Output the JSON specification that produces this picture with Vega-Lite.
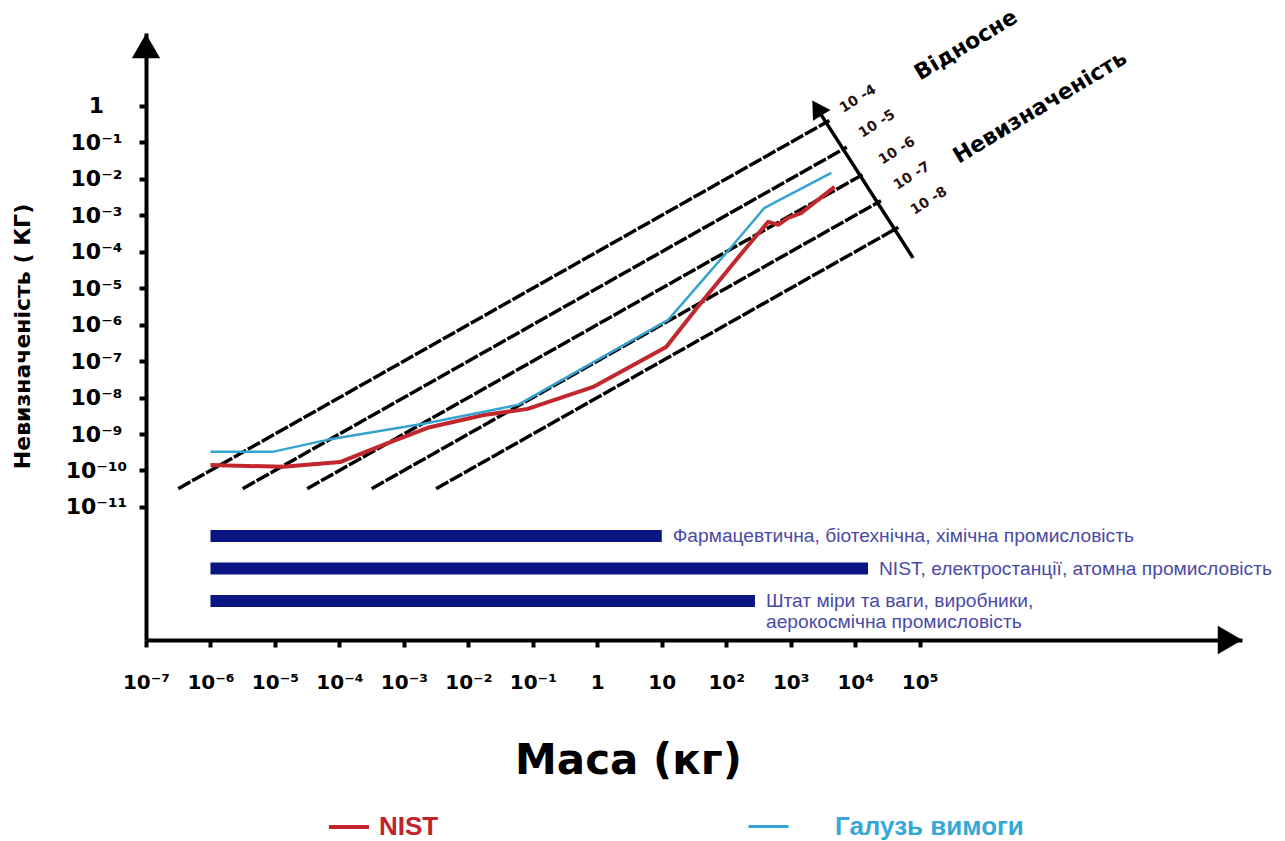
{
  "$schema": "https://vega.github.io/schema/vega-lite/v6.json",
  "width": 1096,
  "height": 607,
  "autosize": {"type": "none"},
  "padding": {"left": 146, "top": 33, "right": 43, "bottom": 201},
  "background": "white",
  "config": {"view": {"stroke": null}, "font": "Liberation Sans", "axis": {"grid": false}},
  "datasets": {
    "diag": [
      {"rel": "1e-4", "mass": 3.162e-7, "unc": 3.162e-11},
      {"rel": "1e-4", "mass": 3981, "unc": 0.3981},
      {"rel": "1e-5", "mass": 3.162e-6, "unc": 3.162e-11},
      {"rel": "1e-5", "mass": 7413, "unc": 0.07413},
      {"rel": "1e-6", "mass": 3.162e-5, "unc": 3.162e-11},
      {"rel": "1e-6", "mass": 13804, "unc": 0.013804},
      {"rel": "1e-7", "mass": 3.162e-4, "unc": 3.162e-11},
      {"rel": "1e-7", "mass": 25119, "unc": 0.0025119},
      {"rel": "1e-8", "mass": 3.162e-3, "unc": 3.162e-11},
      {"rel": "1e-8", "mass": 46774, "unc": 0.00046774}
    ],
    "relaxis": [
      {"mass": 78900, "unc": 6.77e-5},
      {"mass": 2649, "unc": 0.777}
    ],
    "series": [
      {"series": "NIST", "i": 1, "mass": 1e-6, "unc": 1.41e-10},
      {"series": "NIST", "i": 2, "mass": 1.35e-5, "unc": 1.26e-10},
      {"series": "NIST", "i": 3, "mass": 1.02e-4, "unc": 1.7e-10},
      {"series": "NIST", "i": 4, "mass": 4.79e-4, "unc": 5.01e-10},
      {"series": "NIST", "i": 5, "mass": 2.34e-3, "unc": 1.48e-9},
      {"series": "NIST", "i": 6, "mass": 0.0174, "unc": 3.31e-9},
      {"series": "NIST", "i": 7, "mass": 0.0832, "unc": 4.9e-9},
      {"series": "NIST", "i": 8, "mass": 0.891, "unc": 2.0e-8},
      {"series": "NIST", "i": 9, "mass": 11.7, "unc": 2.45e-7},
      {"series": "NIST", "i": 10, "mass": 36.3, "unc": 3.09e-6},
      {"series": "NIST", "i": 11, "mass": 191, "unc": 1.12e-4},
      {"series": "NIST", "i": 12, "mass": 447, "unc": 6.61e-4},
      {"series": "NIST", "i": 13, "mass": 646, "unc": 5.5e-4},
      {"series": "NIST", "i": 14, "mass": 912, "unc": 8.51e-4},
      {"series": "NIST", "i": 15, "mass": 1445, "unc": 1.15e-3},
      {"series": "NIST", "i": 16, "mass": 4786, "unc": 6.03e-3},
      {"series": "Галузь вимоги", "i": 1, "mass": 1e-6, "unc": 3.24e-10},
      {"series": "Галузь вимоги", "i": 2, "mass": 9.12e-6, "unc": 3.24e-10},
      {"series": "Галузь вимоги", "i": 3, "mass": 6.46e-5, "unc": 6.92e-10},
      {"series": "Галузь вимоги", "i": 4, "mass": 2.34e-3, "unc": 2.0e-9},
      {"series": "Галузь вимоги", "i": 5, "mass": 0.0589, "unc": 6.31e-9},
      {"series": "Галузь вимоги", "i": 6, "mass": 12.6, "unc": 1.35e-6},
      {"series": "Галузь вимоги", "i": 7, "mass": 120, "unc": 1.35e-4},
      {"series": "Галузь вимоги", "i": 8, "mass": 389, "unc": 1.58e-3},
      {"series": "Галузь вимоги", "i": 9, "mass": 550, "unc": 2.19e-3},
      {"series": "Галузь вимоги", "i": 10, "mass": 4266, "unc": 0.0145}
    ],
    "rellabels": [
      {"text": "10 -4", "mass": 11066, "unc": 1.556},
      {"text": "10 -5", "mass": 21830, "unc": 0.3206},
      {"text": "10 -6", "mass": 44570, "unc": 0.05834},
      {"text": "10 -7", "mass": 76210, "unc": 0.01202},
      {"text": "10 -8", "mass": 139600, "unc": 0.002477}
    ],
    "reltitles": [
      {"text": "Відносне", "mass": 523600, "unc": 47.1},
      {"text": "Невизначеність", "mass": 7360000, "unc": 0.939}
    ],
    "bars": [
      {"label": "Фармацевтична, біотехнічна, хімічна промисловість", "label2": "", "start": 1e-6, "end": 10, "row": 1},
      {"label": "NIST, електростанції, атомна промисловість", "label2": "", "start": 1e-6, "end": 15800, "row": 2},
      {"label": "Штат міри та ваги, виробники,", "label2": "аерокосмічна промисловість", "start": 1e-6, "end": 279, "row": 3}
    ]
  },
  "resolve": {"scale": {"y": "independent"}},
  "layer": [
    {
      "layer": [
        {
          "data": {"name": "diag"},
          "mark": {"type": "line", "color": "black", "strokeWidth": 3.5, "strokeDash": [14, 2], "clip": false},
          "encoding": {
            "x": {
              "field": "mass", "type": "quantitative",
              "scale": {"type": "log", "domain": [1e-7, 1e10], "nice": false},
              "axis": {
                "title": "Маса (кг)",
                "values": [1e-7, 1e-6, 1e-5, 1e-4, 0.001, 0.01, 0.1, 1, 10, 100, 1000, 10000, 100000],
                "labelExpr": "['10⁻⁷','10⁻⁶','10⁻⁵','10⁻⁴','10⁻³','10⁻²','10⁻¹','1','10','10²','10³','10⁴','10⁵'][round(log(datum.value)/LN10)+7]",
                "labelFont": "DejaVu Sans", "labelFontSize": 20, "labelFontWeight": "bold", "labelColor": "black",
                "labelAlign": "center", "labelBaseline": "middle", "labelPadding": 35,
                "labelOverlap": false, "labelBound": false, "labelFlush": false,
                "tickSize": 7, "tickWidth": 4, "tickColor": "black",
                "domainColor": "black", "domainWidth": 4,
                "titleX": 482, "titleY": 120, "titleAlign": "center", "titleBaseline": "middle",
                "titleFont": "DejaVu Sans", "titleFontSize": 42, "titleFontWeight": "bold", "titleColor": "black"
              }
            },
            "y": {
              "field": "unc", "type": "quantitative",
              "scale": {"type": "log", "domain": [2.2387e-15, 100], "nice": false},
              "axis": {
                "title": "Невизначеність ( КГ)",
                "values": [1e-11, 1e-10, 1e-9, 1e-8, 1e-7, 1e-6, 1e-5, 1e-4, 0.001, 0.01, 0.1, 1],
                "labelExpr": "['10⁻¹¹','10⁻¹⁰','10⁻⁹','10⁻⁸','10⁻⁷','10⁻⁶','10⁻⁵','10⁻⁴','10⁻³','10⁻²','10⁻¹','1'][round(log(datum.value)/LN10)+11]",
                "labelFont": "DejaVu Sans", "labelFontSize": 22, "labelFontWeight": "bold", "labelColor": "black",
                "labelAlign": "center", "labelBaseline": "middle", "labelPadding": 43,
                "labelOverlap": false, "labelBound": false, "labelFlush": false,
                "tickSize": 7, "tickWidth": 4, "tickColor": "black",
                "domainColor": "black", "domainWidth": 4,
                "titleX": -124, "titleY": 303, "titleAngle": -90, "titleAlign": "center", "titleBaseline": "middle",
                "titleFont": "DejaVu Sans", "titleFontSize": 22, "titleFontWeight": "bold", "titleColor": "black"
              }
            },
            "detail": {"field": "rel", "type": "nominal"}
          }
        },
        {
          "data": {"name": "relaxis"},
          "mark": {"type": "line", "color": "black", "strokeWidth": 3.5, "clip": false},
          "encoding": {
            "x": {"field": "mass", "type": "quantitative", "scale": {"type": "log", "domain": [1e-7, 1e10], "nice": false}},
            "y": {"field": "unc", "type": "quantitative", "scale": {"type": "log", "domain": [2.2387e-15, 100], "nice": false}}
          }
        },
        {
          "data": {"values": [{}]},
          "mark": {"type": "point", "shape": "triangle-up", "filled": true, "color": "black", "opacity": 1, "size": 420, "angle": -32, "clip": false},
          "encoding": {
            "x": {"datum": 2559, "type": "quantitative", "scale": {"type": "log", "domain": [1e-7, 1e10], "nice": false}},
            "y": {"datum": 0.881, "type": "quantitative", "scale": {"type": "log", "domain": [2.2387e-15, 100], "nice": false}}
          }
        },
        {
          "data": {"values": [{}]},
          "mark": {"type": "point", "shape": "triangle-up", "filled": true, "color": "black", "opacity": 1, "size": 800, "clip": false},
          "encoding": {
            "x": {"datum": 1e-7, "type": "quantitative", "scale": {"type": "log", "domain": [1e-7, 1e10], "nice": false}},
            "y": {"datum": 44.3, "type": "quantitative", "scale": {"type": "log", "domain": [2.2387e-15, 100], "nice": false}}
          }
        },
        {
          "data": {"values": [{}]},
          "mark": {"type": "point", "shape": "triangle-right", "filled": true, "color": "black", "opacity": 1, "size": 800, "clip": false},
          "encoding": {
            "x": {"datum": 6.52e9, "type": "quantitative", "scale": {"type": "log", "domain": [1e-7, 1e10], "nice": false}},
            "y": {"datum": 2.2387e-15, "type": "quantitative", "scale": {"type": "log", "domain": [2.2387e-15, 100], "nice": false}}
          }
        },
        {
          "data": {"name": "series"},
          "transform": [{"filter": "datum.series == 'NIST'"}],
          "mark": {"type": "line", "strokeWidth": 4, "strokeJoin": "round", "clip": false},
          "encoding": {
            "x": {"field": "mass", "type": "quantitative", "scale": {"type": "log", "domain": [1e-7, 1e10], "nice": false}},
            "y": {"field": "unc", "type": "quantitative", "scale": {"type": "log", "domain": [2.2387e-15, 100], "nice": false}},
            "order": {"field": "i", "type": "quantitative"},
            "color": {
              "field": "series", "type": "nominal",
              "scale": {"domain": ["NIST"], "range": ["#c1272d"]},
              "legend": {
                "orient": "none", "legendX": 181, "legendY": 772, "direction": "horizontal",
                "title": null, "symbolType": "stroke", "symbolSize": 1600, "symbolStrokeWidth": 4,
                "labelFontSize": 26, "labelFont": "Liberation Sans", "labelFontWeight": "bold", "labelLimit": 600,
                "labelColor": "#c1232b", "labelOffset": 8, "padding": 0
              }
            }
          }
        },
        {
          "data": {"name": "series"},
          "transform": [{"filter": "datum.series != 'NIST'"}],
          "mark": {"type": "line", "strokeWidth": 2.5, "strokeJoin": "round", "clip": false},
          "encoding": {
            "x": {"field": "mass", "type": "quantitative", "scale": {"type": "log", "domain": [1e-7, 1e10], "nice": false}},
            "y": {"field": "unc", "type": "quantitative", "scale": {"type": "log", "domain": [2.2387e-15, 100], "nice": false}},
            "order": {"field": "i", "type": "quantitative"},
            "stroke": {
              "field": "series", "type": "nominal",
              "scale": {"domain": ["Галузь вимоги"], "range": ["#35a3cf"]},
              "legend": {
                "orient": "none", "legendX": 601, "legendY": 772, "direction": "horizontal",
                "title": null, "symbolType": "stroke", "symbolSize": 1600, "symbolStrokeWidth": 3,
                "labelFontSize": 26, "labelFont": "Liberation Sans", "labelFontWeight": "bold", "labelLimit": 600,
                "labelColor": "#37a8d6", "labelOffset": 45, "padding": 0
              }
            }
          }
        },
        {
          "data": {"name": "rellabels"},
          "mark": {"type": "text", "angle": -32, "align": "center", "baseline": "middle", "fontSize": 14, "fontWeight": "bold", "color": "#2a1212", "font": "DejaVu Sans", "clip": false},
          "encoding": {
            "x": {"field": "mass", "type": "quantitative", "scale": {"type": "log", "domain": [1e-7, 1e10], "nice": false}},
            "y": {"field": "unc", "type": "quantitative", "scale": {"type": "log", "domain": [2.2387e-15, 100], "nice": false}},
            "text": {"field": "text", "type": "nominal"}
          }
        },
        {
          "data": {"name": "reltitles"},
          "mark": {"type": "text", "angle": -31, "align": "center", "baseline": "middle", "fontSize": 22, "fontWeight": "bold", "color": "black", "font": "DejaVu Sans", "clip": false},
          "encoding": {
            "x": {"field": "mass", "type": "quantitative", "scale": {"type": "log", "domain": [1e-7, 1e10], "nice": false}},
            "y": {"field": "unc", "type": "quantitative", "scale": {"type": "log", "domain": [2.2387e-15, 100], "nice": false}},
            "text": {"field": "text", "type": "nominal"}
          }
        }
      ]
    },
    {
      "data": {"name": "bars"},
      "layer": [
        {
          "mark": {"type": "rule", "color": "#0b1483", "strokeWidth": 12, "strokeCap": "butt", "clip": false},
          "encoding": {
            "x": {"field": "start", "type": "quantitative", "scale": {"type": "log", "domain": [1e-7, 1e10], "nice": false}},
            "x2": {"field": "end"},
            "y": {"field": "row", "type": "quantitative", "scale": {"domain": [-14.477, 4.2], "reverse": true, "nice": false, "zero": false}, "axis": null}
          }
        },
        {
          "mark": {"type": "text", "align": "left", "baseline": "middle", "dx": 11, "fontSize": 19.2, "font": "Liberation Sans", "color": "#4a4aa6", "clip": false},
          "encoding": {
            "x": {"field": "end", "type": "quantitative", "scale": {"type": "log", "domain": [1e-7, 1e10], "nice": false}},
            "y": {"field": "row", "type": "quantitative", "scale": {"domain": [-14.477, 4.2], "reverse": true, "nice": false, "zero": false}, "axis": null},
            "text": {"field": "label", "type": "nominal"}
          }
        },
        {
          "mark": {"type": "text", "align": "left", "baseline": "middle", "dx": 11, "dy": 21, "fontSize": 19.2, "font": "Liberation Sans", "color": "#4a4aa6", "clip": false},
          "encoding": {
            "x": {"field": "end", "type": "quantitative", "scale": {"type": "log", "domain": [1e-7, 1e10], "nice": false}},
            "y": {"field": "row", "type": "quantitative", "scale": {"domain": [-14.477, 4.2], "reverse": true, "nice": false, "zero": false}, "axis": null},
            "text": {"field": "label2", "type": "nominal"}
          }
        }
      ]
    }
  ]
}
